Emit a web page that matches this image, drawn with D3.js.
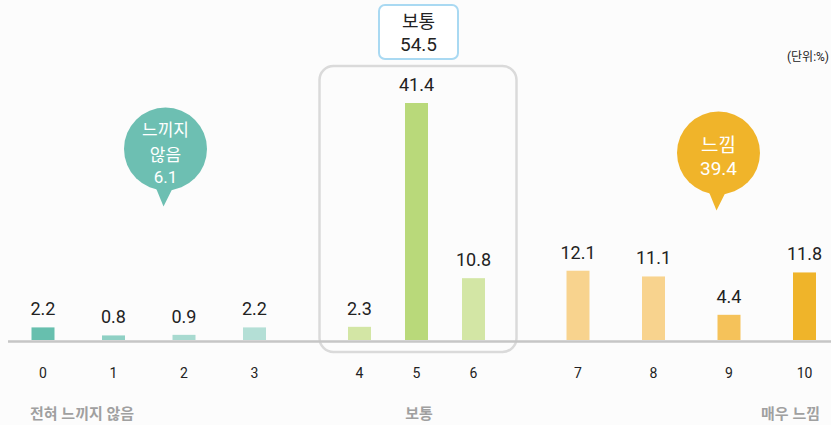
<!DOCTYPE html>
<html>
<head>
<meta charset="utf-8">
<script src="https://cdn.jsdelivr.net/npm/d3@7"></script>
<style>
  body { margin: 0; background: #fcfcfc; }
  svg { display: block; font-family: Roboto, "Noto Sans CJK KR", sans-serif; }
</style>
</head>
<body>
<svg id="chart" width="831" height="425"></svg>
<script>
// data
var categories = ['0', '1', '2', '3', '4', '5', '6', '7', '8', '9', '10']
var values = [2.2, 0.8, 0.9, 2.2, 2.3, 41.4, 10.8, 12.1, 11.1, 4.4, 11.8]
var groupOf = [0, 0, 0, 0, 1, 1, 1, 2, 2, 2, 2]
var groupNames = ['전혀 느끼지 않음', '보통', '매우 느낌']
var summaryLines = [['느끼지', '않음'], ['보통'], ['느낌']]
var summaryValues = [6.1, 54.5, 39.4]
var barColors = ['#67bfae', '#8fd0c4', '#a8dad0', '#b4dfd6',
                 '#d3e6a5', '#b9d97a', '#d3e6a5',
                 '#f8d38e', '#f8d38e', '#f5c25a', '#efb42a']

var svg = d3.select('svg#chart')
var width = 831
var baseY = 340
var barW = 23

// each group gets its own point scale
var groupRanges = [[43, 254.5], [359.5, 473.5], [578, 804.5]]
var xs = groupRanges.map((r, g) => d3.scalePoint()
    .domain(categories.filter((c, i) => groupOf[i] === g))
    .range(r))
var x = (c, i) => xs[groupOf[i]](c)

var y = d3.scaleLinear()
    .domain([0, d3.max(values)])
    .range([baseY, 103])

// grey frame round the middle group
var mid = xs[1]
svg.append('rect')
    .attr('x', mid(categories[4]) - 40)
    .attr('y', 66)
    .attr('width', mid(categories[6]) - mid(categories[4]) + 83)
    .attr('height', 286)
    .attr('rx', 14)
    .attr('fill', 'none')
    .attr('stroke', '#dadada')
    .attr('stroke-width', 2.5)

// baseline
svg.append('line')
    .attr('x1', 8).attr('x2', width)
    .attr('y1', baseY + 1.5).attr('y2', baseY + 1.5)
    .attr('stroke', '#c6c6c6')
    .attr('stroke-width', 2.5)

svg.append('g')
  .selectAll('rect')
  .data(values)
  .enter()
  .append('rect')
    .attr('x', (d, i) => x(categories[i], i) - barW / 2)
    .attr('y', d => y(d))
    .attr('width', barW)
    .attr('height', d => y(0) - y(d))
    .attr('fill', (d, i) => barColors[i])

svg.append('g')
    .attr('font-size', 18)
    .attr('fill', '#222')
    .attr('text-anchor', 'middle')
  .selectAll('text')
  .data(values)
  .enter()
  .append('text')
    .attr('x', (d, i) => x(categories[i], i))
    .attr('y', d => y(d) - 12)
    .text(d => d.toFixed(1))

// category ticks
svg.append('g')
    .attr('font-size', 14)
    .attr('fill', '#222')
    .attr('text-anchor', 'middle')
  .selectAll('text')
  .data(categories)
  .enter()
  .append('text')
    .attr('x', (d, i) => x(d, i))
    .attr('y', 378)
    .text(d => d)

// group names under the axis
var nameX = [30, 419, 820]
var nameAnchor = ['start', 'middle', 'end']
svg.append('g')
    .attr('font-size', 15)
    .attr('font-weight', 'bold')
    .attr('fill', '#a0a0a0')
  .selectAll('text')
  .data(groupNames)
  .enter()
  .append('text')
    .attr('x', (d, i) => nameX[i])
    .attr('y', 419)
    .attr('text-anchor', (d, i) => nameAnchor[i])
    .text(d => d)

svg.append('text')
    .attr('x', 829).attr('y', 61)
    .attr('text-anchor', 'end')
    .attr('font-size', 12)
    .attr('fill', '#222')
    .text('(단위:%)')

// middle summary box
var box = svg.append('g').attr('transform', 'translate(418.5,0)')
box.append('rect')
    .attr('x', -39.5).attr('y', 5)
    .attr('width', 79).attr('height', 54)
    .attr('rx', 6)
    .attr('fill', '#fff')
    .attr('stroke', '#a9d9f2')
    .attr('stroke-width', 2)
box.append('text')
    .attr('text-anchor', 'middle')
    .attr('y', 28).attr('font-size', 18).attr('fill', '#222')
    .text(summaryLines[1][0])
box.append('text')
    .attr('text-anchor', 'middle')
    .attr('y', 51).attr('font-size', 19).attr('fill', '#222')
    .text(summaryValues[1].toFixed(1))

// speech bubbles
function bubble(cx, cy, color, lines, value, lineY, size) {
  var g = svg.append('g').attr('transform', `translate(${cx},${cy})`)
  var r = 41.5
  g.append('path')
      .attr('d', `M-11,${r - 6} L-2,${r + 16} L9,${r - 6} Z`)
      .attr('fill', color)
  g.append('circle').attr('r', r).attr('fill', color)
  var texts = lines.concat([value.toFixed(1)])
  g.selectAll('text')
    .data(texts)
    .enter()
    .append('text')
      .attr('text-anchor', 'middle')
      .attr('font-size', size)
      .attr('fill', '#fff')
      .attr('y', (d, i) => lineY[i])
      .text(d => d)
}
bubble(165.5, 149, '#6dbfb2', summaryLines[0], summaryValues[0], [-13, 12, 34], 17)
bubble(718.5, 153, '#f0b42a', summaryLines[2], summaryValues[2], [-1, 22], 19)
</script>
</body>
</html>
